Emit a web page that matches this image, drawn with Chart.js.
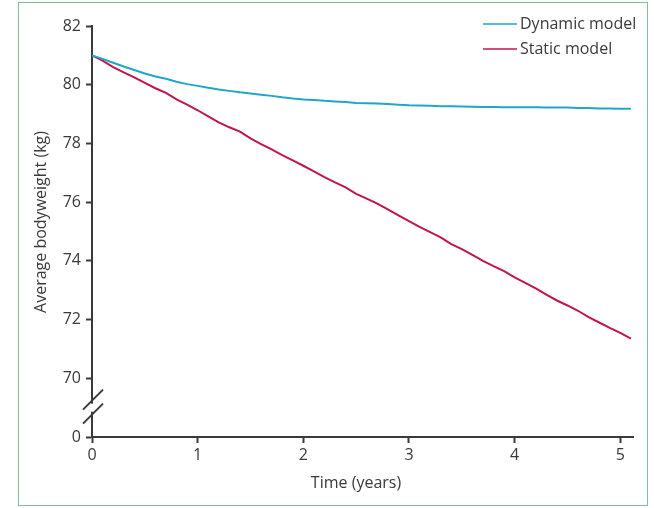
<!DOCTYPE html>
<html>
<head>
<meta charset="utf-8">
<script src="https://cdn.jsdelivr.net/npm/chart.js@4"></script>
<style>
  html, body { margin: 0; padding: 0; background: #fff; }
  #wrap { position: relative; width: 654px; height: 508px; }
  #frame { position: absolute; left: 18px; top: 2px; width: 630px; height: 504px; border: 1px solid #7cbf9c; box-sizing: border-box; }
  canvas { position: absolute; left: 0; top: 0; }
</style>
</head>
<body>
<div id="wrap">
  <div id="frame"></div>
  <canvas id="chart" width="654" height="508"></canvas>
</div>
<script>
// time in years
const years = [0, 0.1, 0.2, 0.3, 0.4, 0.5, 0.6, 0.7, 0.8, 0.9,
  1.0, 1.1, 1.2, 1.3, 1.4, 1.5, 1.6, 1.7, 1.8, 1.9,
  2.0, 2.1, 2.2, 2.3, 2.4, 2.5, 2.6, 2.7, 2.8, 2.9,
  3.0, 3.1, 3.2, 3.3, 3.4, 3.5, 3.6, 3.7, 3.8, 3.9,
  4.0, 4.1, 4.2, 4.3, 4.4, 4.5, 4.6, 4.7, 4.8, 4.9,
  5.0, 5.1];

const dynamicModel = [81.0, 80.88, 80.75, 80.62, 80.5, 80.38, 80.28, 80.2, 80.1, 80.02,
  79.96, 79.9, 79.84, 79.79, 79.74, 79.7, 79.66, 79.62, 79.57, 79.53,
  79.5, 79.48, 79.45, 79.43, 79.41, 79.38, 79.37, 79.36, 79.34, 79.32,
  79.3, 79.29, 79.28, 79.27, 79.27, 79.26, 79.25, 79.24, 79.24, 79.23,
  79.23, 79.23, 79.23, 79.22, 79.22, 79.22, 79.21, 79.21, 79.19, 79.19,
  79.18, 79.18];

const staticModel = [81.0, 80.82, 80.6, 80.42, 80.25, 80.06, 79.88, 79.72, 79.5, 79.32,
  79.13, 78.92, 78.72, 78.55, 78.4, 78.17, 77.98, 77.8, 77.6, 77.42,
  77.24, 77.05, 76.85, 76.67, 76.5, 76.28, 76.12, 75.95, 75.75, 75.55,
  75.35, 75.16, 74.98, 74.8, 74.57, 74.4, 74.2, 74.0, 73.82, 73.65,
  73.44, 73.25, 73.06, 72.85, 72.65, 72.48, 72.3, 72.08, 71.9, 71.72,
  71.55, 71.35];

const xTicks = [0, 1, 2, 3, 4, 5];
const yTicks = [68, 70, 72, 74, 76, 78, 80, 82];   // 68 stands for the broken "0"

const seriesNames = ['Dynamic model', 'Static model'];
const seriesColors = ['#1fa6c9', '#c0164b'];

const font = "'Open Sans', sans-serif";
const ink = '#3a3a3a';

function toPoints(vals) {
  return vals.map((v, i) => ({ x: years[i], y: v }));
}

const extras = {
  id: 'extras',
  afterDraw(c) {
    const ctx = c.ctx;
    const ys = c.scales.y;
    const xa = c.chartArea.left;
    ctx.save();
    // axis break
    const yb = ys.getPixelForValue(69.0);
    ctx.fillStyle = '#fff';
    ctx.fillRect(xa - 3, yb - 4, 6, 8);
    ctx.strokeStyle = ink;
    ctx.lineWidth = 2;
    ctx.beginPath();
    ctx.moveTo(xa - 9, yb + 2); ctx.lineTo(xa + 11, yb - 18);
    ctx.moveTo(xa - 9, yb + 16); ctx.lineTo(xa + 11, yb - 4);
    ctx.stroke();

    // y title
    ctx.fillStyle = ink;
    ctx.font = '16px ' + font;
    ctx.textAlign = 'center';
    ctx.textBaseline = 'middle';
    ctx.translate(41, 222);
    ctx.rotate(-Math.PI / 2);
    ctx.fillText('Average bodyweight (kg)', 0, 0);
    ctx.restore();

    ctx.save();
    ctx.fillStyle = ink;
    ctx.font = '16px ' + font;
    ctx.textAlign = 'center';
    ctx.textBaseline = 'middle';
    ctx.fillText('Time (years)', 356, 483);

    // legend
    ctx.textAlign = 'left';
    seriesNames.forEach((name, i) => {
      const y = 24 + i * 25;
      ctx.strokeStyle = seriesColors[i];
      ctx.lineWidth = 1.5;
      ctx.beginPath();
      ctx.moveTo(483, y); ctx.lineTo(517, y);
      ctx.stroke();
      ctx.fillText(name, 520, y);
    });
    ctx.restore();
  }
};

new Chart(document.getElementById('chart'), {
  type: 'line',
  data: {
    datasets: [
      { label: seriesNames[0], data: toPoints(dynamicModel), borderColor: seriesColors[0], borderWidth: 2, pointRadius: 0, tension: 0 },
      { label: seriesNames[1], data: toPoints(staticModel), borderColor: seriesColors[1], borderWidth: 2, pointRadius: 0, tension: 0 }
    ]
  },
  options: {
    responsive: false,
    animation: false,
    layout: { padding: { left: 0, top: 26, right: 21, bottom: 0 } },
    plugins: { legend: { display: false }, tooltip: { enabled: false } },
    scales: {
      x: {
        type: 'linear',
        min: 0,
        max: 5.12,
        afterBuildTicks(s) { s.ticks = xTicks.map(v => ({ value: v })); },
        afterFit(s) { s.height = 71; },
        grid: { drawOnChartArea: false, tickLength: 6, tickColor: ink, tickWidth: 2 },
        border: { color: ink, width: 2 },
        ticks: { color: ink, font: { family: font, size: 16 }, padding: 3, maxRotation: 0 }
      },
      y: {
        min: 68,
        max: 82,
        afterBuildTicks(s) { s.ticks = yTicks.map(v => ({ value: v })); },
        afterFit(s) { s.width = 92; },
        grid: { drawOnChartArea: false, tickLength: 6, tickColor: ink, tickWidth: 2 },
        border: { color: ink, width: 2 },
        ticks: {
          color: ink,
          font: { family: font, size: 16 },
          padding: 5,
          callback: v => (v === 68 ? '0' : v)
        }
      }
    }
  },
  plugins: [extras]
});
</script>
</body>
</html>
